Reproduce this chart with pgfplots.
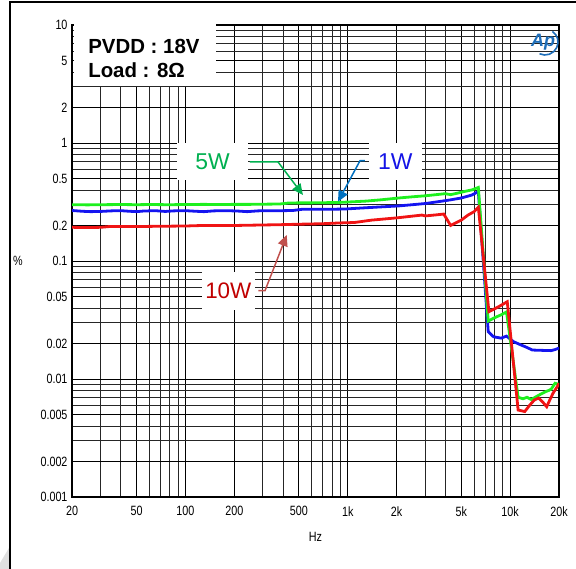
\documentclass[border=0pt]{standalone}
\usepackage{pgfplots}
\pgfplotsset{compat=1.18}
\usepackage{fontspec}
\setmainfont{Liberation Sans}
\newfontfamily\tickfont[FakeStretch=0.8]{Liberation Sans}
\usetikzlibrary{arrows.meta}

\definecolor{lgreen}{RGB}{30,240,30}
\definecolor{lblue}{RGB}{20,20,240}
\definecolor{lred}{RGB}{240,20,20}
\definecolor{tgreen}{RGB}{0,176,80}
\definecolor{tblue}{RGB}{20,20,230}
\definecolor{ablue}{RGB}{0,112,192}
\definecolor{tred}{RGB}{192,0,0}
\definecolor{ared}{RGB}{192,80,77}
\definecolor{apblue}{RGB}{30,110,185}

\begin{document}
\begin{tikzpicture}
\useasboundingbox (-72bp,-72bp) rectangle (504bp,497bp);
% page frame and corner shade
\fill[black!12] (-72bp,-72bp) -- (-72bp,-66bp) -- (-63bp,-51bp) -- (-63bp,-72bp) -- cycle;
\draw[line width=2bp] (-62bp,-72bp) -- (-62bp,495bp) -- (504bp,495bp);

\begin{axis}[
    scale only axis,
    width=487bp, height=472bp,
    xmode=log, ymode=log,
    xmin=20, xmax=20000, ymin=0.001, ymax=10,
    xtick={20,50,100,200,500,1000,2000,5000,10000,20000},
    xticklabels={20,50,100,200,500,1k,2k,5k,10k,20k},
    minor xtick={30,40,60,70,80,90,300,400,600,700,800,900,3000,4000,6000,7000,8000,9000},
    ytick={0.001,0.002,0.005,0.01,0.02,0.05,0.1,0.2,0.5,1,2,5,10},
    yticklabels={0.001,0.002,0.005,0.01,0.02,0.05,0.1,0.2,0.5,1,2,5,10},
    minor ytick={0.003,0.004,0.006,0.007,0.008,0.009,0.03,0.04,0.06,0.07,0.08,0.09,
                 0.3,0.4,0.6,0.7,0.8,0.9,3,4,6,7,8,9},
    grid=both,
    major grid style={black, line width=0.9bp},
    minor grid style={black!85, line width=0.9bp},
    major tick length=0pt, minor tick length=0pt,
    axis line style={black, line width=1.3bp},
    tick label style={font=\tickfont\fontsize{13.5}{14}\selectfont},
    xticklabel style={yshift=-6bp},
    yticklabel style={xshift=-1bp},
    xlabel={Hz}, ylabel={\%},
    every axis x label/.style={at={(axis description cs:0.5,0)}, anchor=center,
      yshift=-40bp, font=\tickfont\fontsize{13.5}{14}\selectfont},
    every axis y label/.style={at={(axis description cs:0,0.5)}, anchor=center,
      xshift=-54bp, font=\tickfont\fontsize{13.5}{14}\selectfont},
  ]
  % 1W
  \addplot[lblue, line width=2.8bp] coordinates {
    (20,0.268) (23,0.264) (26,0.262) (30,0.263) (35,0.266) (40,0.267) (45,0.264)
    (50,0.262) (55,0.265) (65,0.267) (75,0.263) (85,0.266) (100,0.267) (115,0.264)
    (130,0.262) (150,0.266) (180,0.267) (210,0.265) (240,0.262) (280,0.266)
    (330,0.267) (400,0.267) (460,0.268) (520,0.274) (600,0.275) (700,0.275)
    (850,0.275) (970,0.276) (1200,0.281) (1500,0.286) (2060,0.293) (2500,0.300)
    (3000,0.307) (3600,0.318) (4300,0.330) (5000,0.342) (5800,0.362) (6370,0.388)
    (7330,0.0252) (7900,0.0228) (8800,0.0222) (9500,0.0231) (10500,0.0207)
    (11700,0.0194) (12700,0.0185) (13700,0.0176) (15500,0.0175) (17900,0.0174)
    (19000,0.0178) (20000,0.0183)};
  % 5W
  \addplot[lgreen, line width=2.8bp] coordinates {
    (20,0.300) (25,0.299) (30,0.300) (40,0.301) (50,0.300) (60,0.301) (80,0.300)
    (100,0.301) (130,0.302) (160,0.301) (200,0.302) (250,0.302) (300,0.303)
    (380,0.304) (430,0.310) (500,0.311) (600,0.311) (700,0.312) (860,0.313)
    (1000,0.316) (1300,0.322) (1600,0.330) (2060,0.342) (2500,0.350) (3000,0.357)
    (3500,0.365) (3980,0.372) (4300,0.365) (4700,0.375) (5300,0.390) (5800,0.400)
    (6370,0.420) (7330,0.0310) (8000,0.0330) (8800,0.0350) (9500,0.0370)
    (11200,0.0070) (12000,0.0068) (12700,0.0070) (13500,0.0067) (14500,0.0071)
    (15600,0.0075) (16500,0.0078) (17300,0.0080) (17900,0.0082) (18900,0.0092)
    (20000,0.0090)};
  % 10W
  \addplot[lred, line width=2.8bp] coordinates {
    (20,0.193) (25,0.192) (30,0.193) (34,0.196) (50,0.196) (70,0.197) (100,0.198)
    (127,0.200) (200,0.200) (300,0.202) (376,0.203) (500,0.205) (700,0.207)
    (880,0.210) (1100,0.212) (1400,0.222) (2000,0.232) (2500,0.240) (2860,0.245)
    (3000,0.241) (3500,0.246) (3900,0.250) (4300,0.200) (5000,0.222) (5500,0.245)
    (6000,0.262) (6370,0.285) (7400,0.0372) (8500,0.041) (9600,0.0452)
    (11200,0.00546) (12300,0.00530) (13200,0.0060) (14100,0.00664) (15000,0.0069)
    (16000,0.0063) (16800,0.00582) (17600,0.0067) (18400,0.0076) (19600,0.0087)
    (20000,0.0092)};

  % condition box
  \fill[white] (rel axis cs:0.004,0.871) rectangle (rel axis cs:0.2957,1.004);
  \node[anchor=west, font=\bfseries\fontsize{20.5}{22}\selectfont, inner sep=0]
    at (rel axis cs:0.033,0.9555) {PVDD : 18V};
  \node[anchor=west, font=\bfseries\fontsize{20.5}{22}\selectfont, inner sep=0]
    at (rel axis cs:0.033,0.9047) {Load : 8Ω};

  % series labels
  \draw[tgreen, line width=1.5bp, -{Triangle[width=10bp,length=11bp]}]
    (rel axis cs:0.3655,0.710) -- (rel axis cs:0.423,0.710) -- (rel axis cs:0.4743,0.6398);
  \draw[ablue, line width=1.5bp, -{Triangle[width=10bp,length=11bp]}]
    (rel axis cs:0.6016,0.7125) -- (rel axis cs:0.5914,0.7125) -- (rel axis cs:0.5462,0.6257);
  \draw[ared, line width=1.5bp, -{Triangle[width=10bp,length=11bp]}]
    (rel axis cs:0.3825,0.4371) -- (rel axis cs:0.3963,0.4371) -- (rel axis cs:0.4409,0.5551);
  \node[fill=white, inner sep=0, minimum width=71bp, minimum height=37bp, text=tgreen,
    font=\fontsize{23}{24}\selectfont] at (rel axis cs:0.2885,0.711) {5W};
  \node[fill=white, inner sep=0, minimum width=53bp, minimum height=37bp, text=tblue,
    font=\fontsize{23}{24}\selectfont] at (rel axis cs:0.664,0.711) {1W};
  \node[fill=white, inner sep=0, minimum width=53bp, minimum height=38bp, text=tred,
    font=\fontsize{22.5}{24}\selectfont] at (rel axis cs:0.321,0.436) {10W};
\end{axis}

% Ap logo
\node[text=apblue, font=\bfseries\itshape\fontsize{18}{18}\selectfont, inner sep=0] at (471bp,455bp) {Ap};
\draw[apblue, line width=1.6bp] (473bp,455bp) ++(-115:13bp) arc[start angle=-115, end angle=55, radius=13bp];
\end{tikzpicture}
\end{document}
